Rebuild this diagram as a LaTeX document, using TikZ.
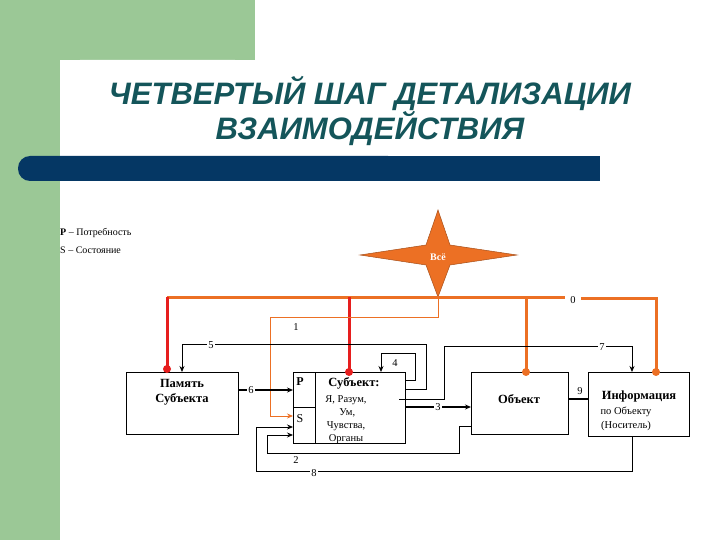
\documentclass[tikz,border=0pt]{standalone}
\usepackage{fontspec}
\setmainfont{Liberation Serif}
\newfontfamily\titlefont{Liberation Sans}
\usetikzlibrary{arrows.meta}
\definecolor{gr}{RGB}{155,200,150}
\definecolor{navy}{RGB}{5,55,100}
\definecolor{teal}{RGB}{20,85,90}
\definecolor{org}{RGB}{236,112,36}
\definecolor{rd}{RGB}{230,30,30}
\begin{document}
\begin{tikzpicture}[x=1pt,y=-1pt,
  box/.style={draw,thick,inner sep=0pt,anchor=north west},
  thinar/.style={draw,line width=0.8pt,-{Stealth[length=6pt,width=5pt]}},
  thk/.style={draw,line width=1.6pt},
  lab/.style={font=\fontsize{10.5}{10}\selectfont,inner sep=1pt,fill=white},
  txt/.style={font=\fontsize{10}{11}\selectfont,align=center},
  btxt/.style={font=\bfseries\fontsize{12.5}{15}\selectfont,align=center},
  redl/.style={draw=rd,line width=3pt},
  orgl/.style={draw=org,line width=3pt},
  dotr/.style={circle,fill=rd,inner sep=0pt,minimum size=8pt},
  doto/.style={circle,fill=org,inner sep=0pt,minimum size=8pt}]
\useasboundingbox (0,0) rectangle (720,540);
% background
\fill[gr] (0,0) rectangle (60,540);
\fill[gr] (60,0) rectangle (255,60);
\fill[white,rounded corners=20pt] (60,540) -- (60,60) -- (255,60) [sharp corners] -- (255,540) -- cycle;
\fill[navy,rounded corners=12pt] (18,156) rectangle (400,181);
\fill[navy] (300,156) rectangle (600,181);
% title
\node[font=\titlefont\bfseries\itshape\fontsize{31}{34}\selectfont,text=teal,align=center] (title) at (370,111) {ЧЕТВЕРТЫЙ ШАГ ДЕТАЛИЗАЦИИ\\ВЗАИМОДЕЙСТВИЯ};
% legend
\node[anchor=west,font=\fontsize{10}{10}\selectfont,inner sep=0pt] (lp) at (60,233) {\textbf{P} – Потребность};
\node[anchor=west,font=\fontsize{10}{10}\selectfont,inner sep=0pt] (ls) at (60,250) {S – Состояние};
% star
\fill[org,draw=org!70!black,line width=0.5pt] (438,210) -- (450,245) -- (517,255) -- (450,265) -- (438,297) -- (426,265) -- (360,255) -- (426,245) -- cycle;
\node[text=white,font=\bfseries\fontsize{10}{10}\selectfont] (star) at (438,257) {Всё};
% boxes
\node[box,minimum width=112pt,minimum height=62pt] (mem) at (126,372) {};
\node[btxt] (memt) at (182,392) {Память\\Субъекта};
\node[box,minimum width=112pt,minimum height=71pt] (sub) at (293,372) {};
\draw[thick] (315,372) -- (315,443);
\draw[thick] (293,407) -- (315,407);
\node[font=\bfseries\fontsize{12}{12}\selectfont] (P) at (300,382) {P};
\node[font=\fontsize{12}{12}\selectfont] (S) at (300,419) {S};
\node[btxt] (subt) at (354,383) {Субъект:};
\begin{scope}
\clip (316,372) rectangle (405,443);
\node[txt,anchor=north,font=\fontsize{10.5}{13}\selectfont] (subl) at (346,392) {Я, Разум,\\ \ Ум,\\Чувства,\\Органы};
\end{scope}
\node[box,minimum width=97pt,minimum height=62pt] (obj) at (471,372) {};
\node[btxt] (objt) at (519,399) {Объект};
\node[box,minimum width=101pt,minimum height=64pt] (info) at (588,372) {};
\node[btxt] (infot) at (639,396) {Информация};
\node[txt,font=\fontsize{10.5}{14}\selectfont] (infol) at (626,419) {по Объекту\\(Носитель)};
% orange / red lines
\coordinate (m0) at (167,297);
\coordinate (s0) at (349,297);
\coordinate (o0) at (526,297);
\coordinate (g1) at (565,297);
\coordinate (g2) at (581,298);
\coordinate (i0) at (656,298);
\draw[orgl] (m0) -- (g1);
\draw[orgl] (g2) -- (i0) -- (656,372);
\node[inner sep=1pt,font=\fontsize{10.5}{10}\selectfont] (l0) at (573,300) {0};
\draw[redl] (m0) -- (167,372);
\draw[redl] (s0) -- (349,372);
\draw[orgl] (o0) -- (526,372);
\node[dotr] at (167,369) {};
\node[dotr] at (349,372) {};
\node[doto] at (526,372) {};
\node[doto] at (656,372) {};
% line 1
\draw[draw=org,line width=0.8pt,-{Stealth[length=6pt,width=5pt]}] (star.south |- 0,297) -- (438,317) -- (270,317) -- (270,416) -- (293,416);
\node[lab] at (296,327) {1};
% line 5
\draw[thinar] (405,389) -- (426,389) -- (426,344) -- (182,344) -- (mem.north -| 182,0);
\node[lab] at (211,345) {5};
% line 4
\draw[thinar] (405,380) -- (415,380) -- (415,353) -- (381,353) -- (381,372);
\node[lab] at (395,363) {4};
% line 7
\draw[thinar] (399,399) -- (444,399) -- (444,346) -- (632,346) -- (632,372);
\node[lab] at (602,347) {7};
% line 6
\draw[thk,-{Stealth[length=6pt,width=5pt]}] (mem.east |- 0,390) -- (sub.west |- 0,390);
\node[lab] at (251,390) {6};
% line 3
\draw[thk,-{Stealth[length=6pt,width=5pt]}] (sub.east |- 0,407) -- (obj.west |- 0,407);
\node[lab] at (438,407) {3};
% line 9
\draw[thk] (obj.east |- 0,399) -- (info.west |- 0,399);
\node[inner sep=1pt,font=\fontsize{10.5}{10}\selectfont] at (580,391) {9};
% line 2
\draw[thinar] (obj.west |- 0,426) -- (459,426) -- (459,453) -- (267,453) -- (267,435) -- (293,435);
\node[lab] at (296,460) {2};
% line 8
\draw[thinar] (632,436) -- (632,471) -- (256,471) -- (256,427) -- (293,427);
\node[lab] at (314,473) {8};
\end{tikzpicture}
\end{document}
